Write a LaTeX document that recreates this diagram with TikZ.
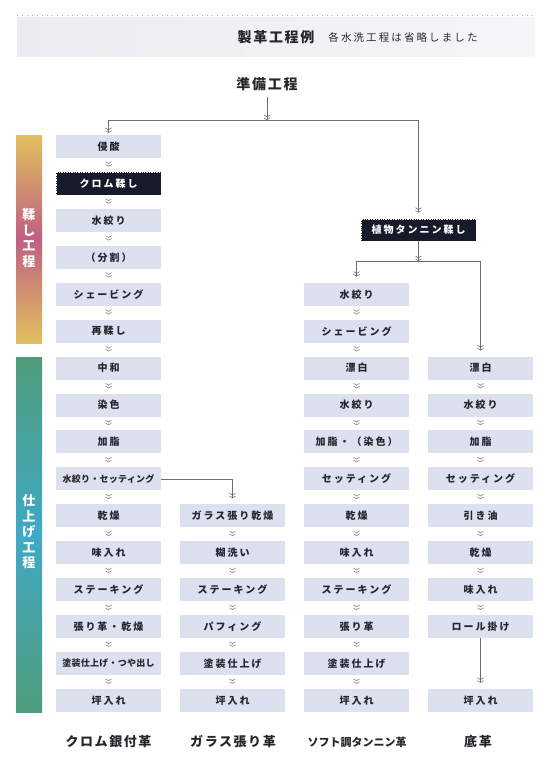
\documentclass[tikz,border=0pt]{standalone}
\usepackage{fontspec}
\newfontfamily\jpA{Noto Sans CJK JP}[LetterSpace=20]
\newfontfamily\jpB{Noto Sans CJK JP}[LetterSpace=3]
\newfontfamily\jpC{Noto Sans CJK JP}[LetterSpace=12]
\newfontfamily\jpD{Noto Sans CJK JP}
\usetikzlibrary{arrows.meta}
\definecolor{boxc}{HTML}{DCE0EF}
\definecolor{darkc}{HTML}{171A2B}
\definecolor{txtc}{HTML}{26262E}
\definecolor{linec}{HTML}{6B6B74}
\definecolor{goldc}{HTML}{E0C05E}
\definecolor{rosec}{HTML}{C05F82}
\definecolor{greenc}{HTML}{4E9C7A}
\definecolor{tealc}{HTML}{41A9C6}
\definecolor{bandl}{HTML}{EBECF1}
\definecolor{bandr}{HTML}{F6F6F9}
\tikzset{
  box/.style={fill=boxc, minimum width=105pt, minimum height=23pt, inner sep=0pt, text=txtc,
    font=\jpA\bfseries\fontsize{10}{12}\selectfont},
  longbox/.style={box, font=\jpB\bfseries\fontsize{9}{11}\selectfont},
  dbox/.style={box, fill=darkc, text=white, draw=white, densely dotted, line width=0.7pt},
  line/.style={draw=linec, line width=0.8pt},
  chevtip/.style={-{Straight Barb[length=1.8pt,width=6pt,line width'=0.55pt,sep=0.4pt] Straight Barb[length=1.8pt,width=6pt,line width'=0.55pt]}},
  arr/.style={line, chevtip},
  sc/.style={draw=linec!85, line width=0.01pt, chevtip, shorten <=4pt, shorten >=5pt},
  bartext/.style={text=white, align=center, inner sep=0pt, font=\jpD\bfseries\fontsize{13}{15.5}\selectfont},
  ttl/.style={text=txtc, inner sep=0pt, font=\jpC\bfseries\fontsize{14}{16}\selectfont},
  foot/.style={text=txtc, inner sep=0pt, font=\jpC\bfseries\fontsize{13}{15}\selectfont}
}
\begin{document}
\begin{tikzpicture}[x=1pt,y=-1pt]
\useasboundingbox (0,0) rectangle (550,772);
\fill[white] (0,0) rectangle (550,772);
% header
\draw[linec!55, line width=0.7pt, dash pattern=on 0.7pt off 4.3pt] (17,15) -- (535,15);
\shade[left color=bandl, right color=bandr] (17,17) rectangle (535,56);
\node[ttl] (title) at (276,37) {製革工程例};
\node[text=txtc, inner sep=0pt, font=\jpA\fontsize{10.5}{12}\selectfont] (sub) at (403,37) {各水洗工程は省略しました};
\node[ttl] (prep) at (267,84) {準備工程};
% side bars
\shade[top color=goldc, bottom color=goldc, middle color=rosec] (16,135) rectangle (42,343);
\node[bartext] (bar1) at (29,238) {鞣\\し\\工\\程};
\shade[top color=greenc, bottom color=greenc, middle color=tealc] (16,357) rectangle (42,712);
\node[bartext] (bar2) at (29,532) {仕\\上\\げ\\工\\程};
% column 1
\node[box]  (a0)  at (108.5,146.5) {侵酸};
\node[dbox] (a1)  at (108.5,183.4) {クロム鞣し};
\node[box]  (a2)  at (108.5,220.4) {水絞り};
\node[box]  (a3)  at (108.5,257.3) {（分割）};
\node[box]  (a4)  at (108.5,294.2) {シェービング};
\node[box]  (a5)  at (108.5,331.2) {再鞣し};
\node[box]  (a6)  at (108.5,368.1) {中和};
\node[box]  (a7)  at (108.5,405.0) {染色};
\node[box]  (a8)  at (108.5,441.9) {加脂};
\node[longbox] (a9) at (108.5,478.9) {水絞り・セッティング};
\node[box]  (a10) at (108.5,515.8) {乾燥};
\node[box]  (a11) at (108.5,552.7) {味入れ};
\node[box]  (a12) at (108.5,589.7) {ステーキング};
\node[box]  (a13) at (108.5,626.6) {張り革・乾燥};
\node[longbox] (a14) at (108.5,663.5) {塗装仕上げ・つや出し};
\node[box]  (a15) at (108.5,700.5) {坪入れ};
% column 2
\node[box] (b10) at (232.5,515.8) {ガラス張り乾燥};
\node[box] (b11) at (232.5,552.7) {糊洗い};
\node[box] (b12) at (232.5,589.7) {ステーキング};
\node[box] (b13) at (232.5,626.6) {パフィング};
\node[box] (b14) at (232.5,663.5) {塗装仕上げ};
\node[box] (b15) at (232.5,700.5) {坪入れ};
% column 3
\node[dbox, minimum width=115pt, minimum height=22pt] (tan) at (418.5,230) {植物タンニン鞣し};
\node[box] (c4)  at (356.5,294.2) {水絞り};
\node[box] (c5)  at (356.5,331.2) {シェービング};
\node[box] (c6)  at (356.5,368.1) {漂白};
\node[box] (c7)  at (356.5,405.0) {水絞り};
\node[box] (c8)  at (356.5,441.9) {加脂・（染色）};
\node[box] (c9)  at (356.5,478.9) {セッティング};
\node[box] (c10) at (356.5,515.8) {乾燥};
\node[box] (c11) at (356.5,552.7) {味入れ};
\node[box] (c12) at (356.5,589.7) {ステーキング};
\node[box] (c13) at (356.5,626.6) {張り革};
\node[box] (c14) at (356.5,663.5) {塗装仕上げ};
\node[box] (c15) at (356.5,700.5) {坪入れ};
% column 4
\node[box] (d6)  at (480.5,368.1) {漂白};
\node[box] (d7)  at (480.5,405.0) {水絞り};
\node[box] (d8)  at (480.5,441.9) {加脂};
\node[box] (d9)  at (480.5,478.9) {セッティング};
\node[box] (d10) at (480.5,515.8) {引き油};
\node[box] (d11) at (480.5,552.7) {乾燥};
\node[box] (d12) at (480.5,589.7) {味入れ};
\node[box] (d13) at (480.5,626.6) {ロール掛け};
\node[box] (d15) at (480.5,700.5) {坪入れ};
% footers
\node[foot] (f1) at (108.5,742) {クロム銀付革};
\node[foot] (f2) at (233,742) {ガラス張り革};
\node[text=txtc, inner sep=0pt, font=\jpD\bfseries\fontsize{11}{13}\selectfont] (f3) at (357,742) {ソフト調タンニン革};
\node[foot] (f4) at (478,742) {底革};
% long connectors
\coordinate (J) at (267,120);
\coordinate (JL) at (108.5,120);
\coordinate (JR) at (418.5,120);
\coordinate (T) at (418.5,261);
\coordinate (TL) at (356.5,261);
\coordinate (TR) at (480.5,261);
\draw[arr, shorten <=6pt] (prep) -- (J);
\draw[line] (JL) -- (JR);
\draw[arr, shorten >=2pt] (JL) -- (a0);
\draw[arr, shorten >=6pt] (JR) -- (tan);
\draw[arr] (tan) -- (T);
\draw[line] (TL) -- (TR);
\draw[arr, shorten >=6pt] (TL) -- (c4);
\draw[arr, shorten >=6pt] (TR) -- (d6);
\draw[arr, shorten >=6pt] (a9.east) -| (b10);
\draw[arr, shorten >=6pt] (d13) -- (d15);
% short connectors
\foreach \i [count=\j from 1] in {0,...,14} \draw[sc] (a\i) -- (a\j);
\foreach \i [count=\j from 11] in {10,...,14} \draw[sc] (b\i) -- (b\j);
\foreach \i [count=\j from 5] in {4,...,14} \draw[sc] (c\i) -- (c\j);
\foreach \i [count=\j from 7] in {6,...,12} \draw[sc] (d\i) -- (d\j);
\end{tikzpicture}
\end{document}
